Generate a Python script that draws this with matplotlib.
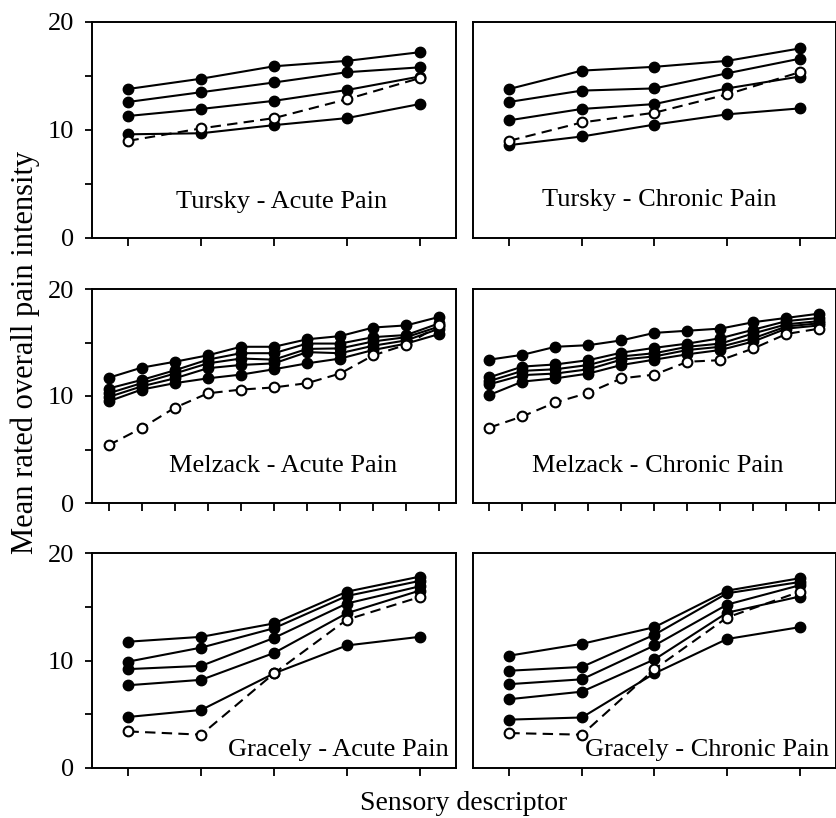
import numpy as np
import matplotlib.pyplot as plt

plt.rcParams['font.family'] = ['Liberation Serif', 'DejaVu Serif']

# -----------------------------
# Data
# -----------------------------
x5 = [1, 2, 3, 4, 5]
x11 = [1, 2, 3, 4, 5, 6, 7, 8, 9, 10, 11]

tursky_acute = [
    [13.8, 14.75, 15.9, 16.4, 17.2],
    [12.6, 13.5, 14.4, 15.35, 15.8],
    [11.3, 11.95, 12.7, 13.7, 14.95],
    [9.6, 9.7, 10.45, 11.1, 12.4],
]
tursky_acute_open = [9.0, 10.15, 11.1, 12.85, 14.8]

tursky_chronic = [
    [13.8, 15.5, 15.85, 16.4, 17.55],
    [12.6, 13.65, 13.85, 15.25, 16.6],
    [10.9, 11.95, 12.4, 13.85, 14.95],
    [8.6, 9.4, 10.5, 11.45, 12.0],
]
tursky_chronic_open = [9.0, 10.7, 11.6, 13.3, 15.35]

melzack_acute = [
    [11.7, 12.65, 13.2, 13.8, 14.6, 14.6, 15.3, 15.6, 16.4, 16.6, 17.4],
    [10.7, 11.5, 12.4, 13.4, 14.0, 14.0, 14.9, 14.9, 15.5, 15.7, 16.8],
    [10.25, 11.2, 12.1, 13.05, 13.5, 13.4, 14.4, 14.45, 15.1, 15.5, 16.5],
    [9.9, 10.9, 11.65, 12.6, 12.9, 13.05, 14.1, 14.0, 14.7, 15.2, 16.3],
    [9.5, 10.6, 11.2, 11.65, 12.0, 12.5, 13.05, 13.5, 14.3, 14.9, 15.8],
]
melzack_acute_open = [5.4, 7.0, 8.9, 10.25, 10.6, 10.8, 11.2, 12.1, 13.8, 14.8, 16.6]

melzack_chronic = [
    [13.4, 13.85, 14.6, 14.75, 15.2, 15.9, 16.1, 16.3, 16.9, 17.3, 17.7],
    [11.75, 12.75, 12.95, 13.35, 14.05, 14.5, 14.9, 15.4, 16.2, 17.0, 17.3],
    [11.4, 12.35, 12.5, 12.9, 13.7, 14.0, 14.6, 14.9, 15.85, 16.7, 17.0],
    [11.1, 11.95, 12.1, 12.5, 13.4, 13.7, 14.3, 14.6, 15.4, 16.5, 16.8],
    [10.1, 11.35, 11.65, 12.1, 12.9, 13.4, 13.9, 14.3, 15.1, 16.3, 16.6],
]
melzack_chronic_open = [7.05, 8.1, 9.4, 10.3, 11.65, 12.0, 13.2, 13.35, 14.45, 15.8, 16.3]

gracely_acute = [
    [11.75, 12.2, 13.45, 16.4, 17.8],
    [9.9, 11.2, 13.0, 16.0, 17.4],
    [9.2, 9.5, 12.1, 15.3, 16.9],
    [7.7, 8.2, 10.7, 14.4, 16.5],
    [4.75, 5.4, 8.8, 11.4, 12.2],
]
gracely_acute_open = [3.4, 3.1, 8.8, 13.8, 15.9]

gracely_chronic = [
    [10.45, 11.55, 13.1, 16.5, 17.65],
    [9.05, 9.4, 12.4, 16.25, 17.3],
    [7.8, 8.25, 11.4, 15.2, 17.0],
    [6.4, 7.1, 10.1, 14.45, 15.95],
    [4.5, 4.7, 8.8, 12.0, 13.1],
]
gracely_chronic_open = [3.25, 3.1, 9.2, 14.0, 16.4]

panels = [
    ("Tursky - Acute Pain", x5, tursky_acute, tursky_acute_open, (3.1, 3.3)),
    ("Tursky - Chronic Pain", x5, tursky_chronic, tursky_chronic_open, (3.07, 3.5)),
    ("Melzack - Acute Pain", x11, melzack_acute, melzack_acute_open, (6.27, 3.5)),
    ("Melzack - Chronic Pain", x11, melzack_chronic, melzack_chronic_open, (6.1, 3.5)),
    ("Gracely - Acute Pain", x5, gracely_acute, gracely_acute_open, (3.88, 1.7)),
    ("Gracely - Chronic Pain", x5, gracely_chronic, gracely_chronic_open, (3.73, 1.7)),
]

# -----------------------------
# Layout (pixel boxes of the original)
# -----------------------------
W, H = 837, 818
cols = [(92, 456), (473, 836)]
rows = [(22, 238), (289, 503), (553, 768)]

fig = plt.figure(figsize=(W / 100, H / 100), dpi=100)

for i, (label, xs, solid, dashed, txt) in enumerate(panels):
    r, c = divmod(i, 2)
    x0, x1 = cols[c]
    y0, y1 = rows[r]
    ax = fig.add_axes([x0 / W, 1 - y1 / H, (x1 - x0) / W, (y1 - y0) / H])

    for s in solid:
        ax.plot(xs, s, color="black", lw=1.5, marker="o", ms=7.5,
                mfc="black", mec="black", zorder=3)
    ax.plot(xs, dashed, color="black", lw=1.5, ls=(0, (5, 3)), marker="o",
            ms=7, mfc="white", mec="black", mew=1.5, zorder=4)

    ax.text(txt[0], txt[1], label, ha="center", va="center", fontsize=19)

    ax.set_xlim(0.5, len(xs) + 0.5)
    ax.set_ylim(0, 20)
    ax.set_xticks(xs)
    ax.set_xticklabels([])
    ax.set_yticks([0, 5, 10, 15, 20])
    if c == 0:
        ax.set_yticklabels(["0", "", "10", "", "20"], fontsize=19)
        ax.tick_params(axis="y", direction="out", length=5, width=1.3, pad=8)
    else:
        ax.tick_params(axis="y", left=False, labelleft=False)
    ax.tick_params(axis="x", direction="out", length=6, width=1.3)
    for sp in ax.spines.values():
        sp.set_linewidth(1.4)

fig.text(25 / W, 1 - 352 / H, "Mean rated overall pain intensity",
         rotation=90, ha="center", va="center", fontsize=22)
fig.text(464 / W, 1 - 803 / H, "Sensory descriptor",
         ha="center", va="center", fontsize=20)

fig.savefig("out.png", dpi=100)
